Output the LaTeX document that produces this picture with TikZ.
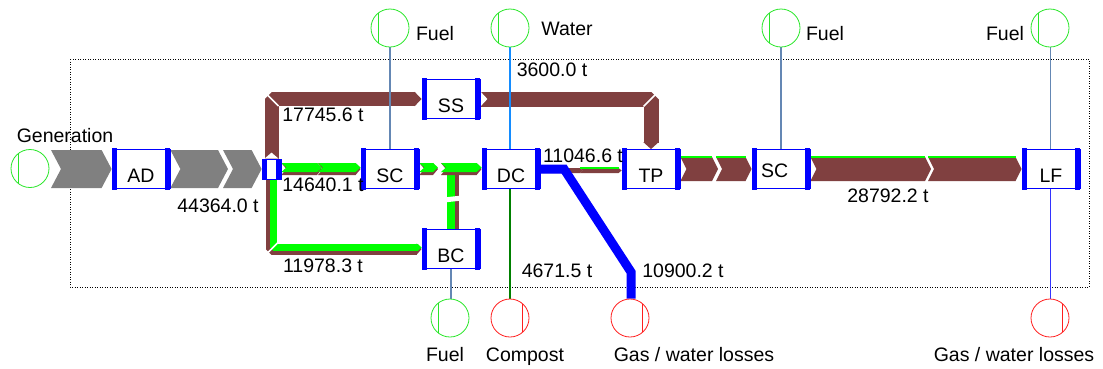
\documentclass[tikz,border=0pt]{standalone}
\usepackage{fontspec}
\setmainfont{Liberation Sans}
\usetikzlibrary{arrows.meta,calc,backgrounds}

\definecolor{flowbrown}{RGB}{128,64,64}
\definecolor{flowgrey}{RGB}{128,128,128}
\definecolor{flowgreen}{RGB}{0,255,0}
\definecolor{flowblue}{RGB}{0,0,255}
\definecolor{waterblue}{RGB}{20,140,255}
\definecolor{fuelgrey}{RGB}{100,135,180}
\definecolor{compostgreen}{RGB}{0,128,0}
\definecolor{srcgreen}{RGB}{40,230,40}
\definecolor{sinkred}{RGB}{255,30,30}

\newcommand{\lblfont}{\fontsize{19.5pt}{22pt}\selectfont}

% one chevron piece of a flow: colour, from, to, half height, tip depth, y offset
\newcommand{\hseg}[6]{%
  \fill[#1] ($#2+(0,#6-#4)$) -- ($#3+(-#5,#6-#4)$) -- ($#3+(0,#6)$)
    -- ($#3+(-#5,#6+#4)$) -- ($#2+(0,#6+#4)$) -- ($#2+(#5,#6)$) -- cycle;}
% green rim on top of a brown piece: from, to, y of rim, tip depth
\newcommand{\hrim}[4]{%
  \draw[flowgreen, line width=1.3pt] ($#1+(0,#3)$) -- ($#2+(-#4,#3)$);}
% brown carrying green piece
\newcommand{\mixseg}[2]{%
  \hseg{flowbrown}{#1}{#2}{6}{5}{0}\hseg{flowgreen}{#1}{#2}{4.5}{5}{-1.5}}

\begin{document}
\begin{tikzpicture}[x=1pt, y=-1pt,
  process/.style={draw=flowblue, fill=white, line width=0.8pt, rectangle,
    minimum width=58pt, minimum height=39pt, inner sep=0pt,
    text height=26pt, text depth=0pt, font=\lblfont},
  splitbox/.style={draw=flowblue, fill=white, line width=0.8pt, rectangle,
    minimum width=19pt, minimum height=20pt, inner sep=0pt},
  source/.style={circle, draw=srcgreen, line width=0.8pt, minimum size=38pt, inner sep=0pt,
    path picture={\draw[srcgreen, line width=0.8pt]
      ([xshift=-12pt]path picture bounding box.south) -- ([xshift=-12pt]path picture bounding box.north);}},
  sink/.style={circle, draw=sinkred, line width=0.8pt, minimum size=38pt, inner sep=0pt,
    path picture={\draw[sinkred, line width=0.8pt]
      ([xshift=12pt]path picture bounding box.south) -- ([xshift=12pt]path picture bounding box.north);}},
  lbl/.style={font=\lblfont, anchor=base, inner sep=0pt},
  brownflow/.style={draw=flowbrown, line join=bevel},
  fuelline/.style={draw=fuelgrey, line width=1.3pt},
  waterline/.style={draw=waterblue, line width=2pt},
  compostline/.style={draw=compostgreen, line width=2.2pt},
  lossline/.style={draw=flowblue!80!white, line width=1pt},
  cut/.style={draw=white, line width=1.5pt},
  frame/.style={draw=black, line width=0.8pt, dash pattern=on 1pt off 1.5pt}
]
\useasboundingbox (0,0) rectangle (1103,368);

% processes
\node[source] (gen) at (30,168.5) {};
\node[process] (AD) at (141,169) {AD};
\node[splitbox] (split) at (271.5,169) {};
\node[process] (SS) at (451,99) {SS};
\node[process] (SC1) at (390,169) {SC};
\node[process] (DC) at (511,169) {DC};
\node[process] (BC) at (451,249) {BC};
\node[process] (TP) at (651,169) {TP};
\node[process, text height=17pt, text width=40pt, align=left] (SC2) at (781,169) {SC};
\node[process] (LF) at (1051,169) {LF};

% inputs and outputs
\node[source] (fuelSC1) at (390,28) {};
\node[source] (water) at (510,28) {};
\node[source] (fuelSC2) at (781,28) {};
\node[source] (fuelLF) at (1050,28) {};
\node[source] (fuelBC) at (450,318) {};
\node[sink] (compost) at (510,318) {};
\node[sink] (lossDC) at (630,318) {};
\node[sink] (lossLF) at (1050,318) {};

% thick side bars of the boxes
\foreach \n in {AD,SS,SC1,DC,BC,TP,SC2,LF} {
  \fill[flowblue] ([yshift=1pt]\n.north west) rectangle ([xshift=5pt,yshift=-1pt]\n.south west);
  \fill[flowblue] ([xshift=-5pt,yshift=1pt]\n.north east) rectangle ([yshift=-1pt]\n.south east);
}
\fill[flowblue] (split.north west) rectangle ([xshift=5pt]split.south west);
\fill[flowblue] ([xshift=-5pt]split.north east) rectangle (split.south east);

\begin{scope}[on background layer]
\draw[frame] (70,59) rectangle (1089,287);

% break points of the flows
\coordinate (gb0) at (51,169);
\coordinate (gb1) at (228,169);
\coordinate (gb2) at (223,169);
\coordinate (mb1) at (322,169);
\coordinate (mb2) at (318,169);
\coordinate (sb1) at (438,169);
\coordinate (sb2) at (441,169);
\coordinate (db1) at (583,169);
\coordinate (db2) at (580,169);
\coordinate (tb1) at (718,169);
\coordinate (tb2) at (716,169);
\coordinate (lb1) at (931,169);
\coordinate (lb2) at (928,169);
\coordinate (bl1) at (564,169);
\coordinate (bl2) at (631,272);
\coordinate (c1) at (split.north |- SS.west);
\coordinate (c2) at (TP.north |- SS.east);
\coordinate (c3) at (split.south |- BC.west);
\coordinate (tj) at (BC.north |- DC.west);

% generation to the split
\hseg{flowgrey}{(gb0)}{(AD.west)}{19}{10}{0}
\hseg{flowgrey}{(AD.east)}{(gb1)}{19}{10}{0}
\hseg{flowgrey}{(gb2)}{(split.west)}{19}{10}{0}

% upper branch
\draw[brownflow, line width=14pt, -{Triangle[length=7pt,width=14pt]}] (split.north) |- (SS.west);
\draw[cut] ($(c1)+(-7,-7)$) -- ($(c1)+(7,7)$);
\fill[white] ($(split.north)+(-7,0)$) -- ($(split.north)+(0,-6)$) -- ($(split.north)+(7,0)$) -- cycle;
\draw[brownflow, line width=15pt, -{Triangle[length=7pt,width=15pt]}] (SS.east) -| (TP.north);
\draw[cut] ($(c2)+(7.5,-7.5)$) -- ($(c2)+(-7.5,7.5)$);
\fill[white] ($(SS.east)+(0,-7.5)$) -- ($(SS.east)+(7,0)$) -- ($(SS.east)+(0,7.5)$) -- cycle;

% lower branch
\draw[brownflow, line width=11pt, -{Triangle[length=5pt,width=11pt]}] (split.south) |- (BC.west);
\draw[flowgreen, line width=7pt, line join=bevel, -{Triangle[length=4pt,width=7pt]}]
  ([xshift=2pt]split.south) |- ([yshift=1.5pt]BC.west);
\draw[cut] ($(c3)+(-6,6)$) -- ($(c3)+(6,-6)$);

% middle branch
\mixseg{(split.east)}{(mb1)}
\mixseg{(mb2)}{(SC1.west)}
\draw[flowbrown, line width=7pt] ([xshift=4pt]BC.north) -- ([xshift=4pt]tj);
\draw[flowgreen, line width=8pt] (BC.north) -- (tj);
\draw[white, line width=5pt] ([xshift=-8pt,yshift=29pt]BC.north) -- ([xshift=10pt,yshift=31pt]BC.north);
\mixseg{(SC1.east)}{(sb1)}
\mixseg{(sb2)}{(DC.west)}

% digestate to post treatment
\hseg{flowbrown}{(DC.east)}{(db1)}{2.5}{3}{1.5}
\hseg{flowbrown}{(db2)}{(TP.west)}{2.5}{3}{1.5}
\hrim{(db2)}{(TP.west)}{-1}{3}
\draw[flowblue, line width=9pt] (DC.east) -- (bl1) -- (bl2) -- (bl2 |- lossDC.north);

% post treatment to landfill
\hseg{flowbrown}{(TP.east)}{(tb1)}{12}{6}{0}
\hrim{(TP.east)}{(tb1)}{-12}{6}
\hseg{flowbrown}{(tb2)}{(SC2.west)}{12}{6}{0}
\hrim{(tb2)}{(SC2.west)}{-12}{6}
\hseg{flowbrown}{(SC2.east)}{(lb1)}{12}{6}{0}
\hrim{(SC2.east)}{(lb1)}{-12}{6}
\hseg{flowbrown}{(lb2)}{(LF.west)}{12}{6}{0}
\hrim{(lb2)}{(LF.west)}{-12}{6}

% thin connectors
\draw[fuelline] (fuelSC1.south) -- (fuelSC1.south |- SC1.north);
\draw[waterline] (water.south) -- (water.south |- DC.north);
\draw[fuelline] (fuelSC2.south) -- (fuelSC2.south |- SC2.north);
\draw[fuelline, line width=1pt] (fuelLF.south) -- (fuelLF.south |- LF.north);
\draw[fuelline] (BC.south) -- (BC.south |- fuelBC.north);
\draw[compostline] (compost.north |- DC.south) -- (compost.north);
\draw[lossline] (lossLF.north |- LF.south) -- (lossLF.north);
\end{scope}

% texts
\node[lbl] (tGen) at (65,142) {Generation};
\node[lbl] (tFuelSC1) at (435,40) {Fuel};
\node[lbl] (tWater) at (567,35) {Water};
\node[lbl] (tFuelSC2) at (825,40) {Fuel};
\node[lbl] (tFuelLF) at (1005,40) {Fuel};
\node[lbl] (tFuelBC) at (445,361) {Fuel};
\node[lbl] (tCompost) at (525,361) {Compost};
\node[lbl] (tLossDC) at (694,361) {Gas / water losses};
\node[lbl] (tLossLF) at (1014,361) {Gas / water losses};
\node[lbl] (qGen) at (218,212) {44364.0 t};
\node[lbl] (qSS) at (323,121) {17745.6 t};
\node[lbl] (qSC) at (323,191) {14640.1 t};
\node[lbl] (qBC) at (323,272) {11978.3 t};
\node[lbl] (qWater) at (552,76) {3600.0 t};
\node[lbl] (qTP) at (583,162) {11046.6 t};
\node[lbl] (qCompost) at (557,277) {4671.5 t};
\node[lbl] (qLoss) at (683,277) {10900.2 t};
\node[lbl] (qLF) at (888,202) {28792.2 t};
\end{tikzpicture}
\end{document}
